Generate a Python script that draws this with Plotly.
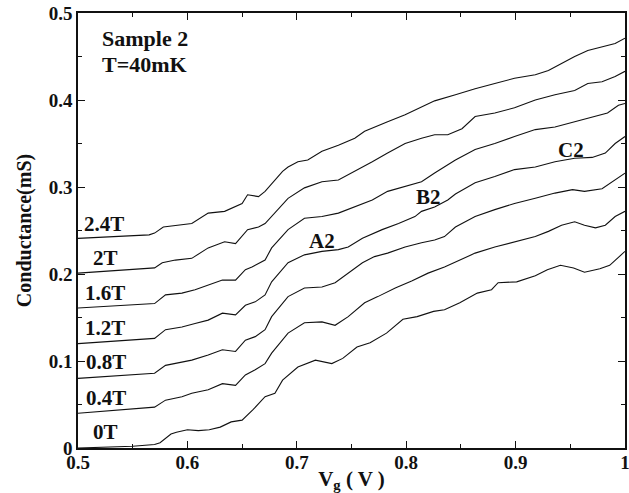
import plotly.graph_objects as go

# ---- data ----
field_labels = ["0T", "0.4T", "0.8T", "1.2T", "1.6T", "2T", "2.4T"]

vg_0T = [0.5, 0.52, 0.55, 0.570, 0.575, 0.585, 0.59, 0.6, 0.61, 0.62, 0.63, 0.64, 0.65, 0.66,
         0.671, 0.68, 0.687, 0.701, 0.717, 0.732, 0.742, 0.755, 0.767, 0.782, 0.797, 0.81,
         0.825, 0.835, 0.849, 0.865, 0.878, 0.884, 0.901, 0.918, 0.929, 0.941, 0.953, 0.963,
         0.977, 0.986, 0.998, 1.0]
g_0T = [0.0, 0.001, 0.002, 0.004, 0.006, 0.016, 0.018, 0.021, 0.020, 0.021, 0.024, 0.030, 0.032, 0.044,
        0.059, 0.063, 0.078, 0.093, 0.101, 0.097, 0.103, 0.116, 0.121, 0.132, 0.148, 0.151,
        0.157, 0.159, 0.167, 0.178, 0.182, 0.190, 0.191, 0.198, 0.205, 0.210, 0.207, 0.202,
        0.206, 0.210, 0.224, 0.226]

vg_04T = [0.5, 0.570, 0.580, 0.595, 0.604, 0.619, 0.632, 0.644, 0.653, 0.662, 0.671, 0.677, 0.692,
          0.707, 0.723, 0.735, 0.747, 0.762, 0.774, 0.790, 0.805, 0.820, 0.835, 0.845, 0.863,
          0.881, 0.899, 0.918, 0.930, 0.942, 0.954, 0.963, 0.973, 0.982, 0.991, 1.0]
g_04T = [0.040, 0.047, 0.055, 0.059, 0.063, 0.067, 0.074, 0.072, 0.084, 0.090, 0.097, 0.109, 0.132,
         0.144, 0.145, 0.141, 0.151, 0.167, 0.174, 0.184, 0.192, 0.201, 0.208, 0.214, 0.224,
         0.231, 0.237, 0.243, 0.249, 0.256, 0.260, 0.256, 0.253, 0.256, 0.266, 0.272]

vg_08T = [0.5, 0.570, 0.580, 0.595, 0.604, 0.619, 0.632, 0.644, 0.653, 0.662, 0.671, 0.677, 0.692,
          0.707, 0.723, 0.735, 0.747, 0.760, 0.771, 0.783, 0.799, 0.814, 0.826, 0.835, 0.845,
          0.863, 0.881, 0.899, 0.918, 0.936, 0.952, 0.963, 0.979, 0.991, 1.0]
g_08T = [0.080, 0.086, 0.095, 0.099, 0.101, 0.107, 0.113, 0.111, 0.124, 0.128, 0.136, 0.151, 0.174,
         0.184, 0.185, 0.190, 0.201, 0.213, 0.220, 0.224, 0.231, 0.236, 0.239, 0.243, 0.254,
         0.266, 0.274, 0.281, 0.287, 0.293, 0.297, 0.295, 0.298, 0.308, 0.316]

vg_12T = [0.5, 0.570, 0.580, 0.595, 0.607, 0.619, 0.632, 0.644, 0.653, 0.662, 0.671, 0.677, 0.692,
          0.707, 0.723, 0.738, 0.747, 0.760, 0.778, 0.793, 0.808, 0.814, 0.826, 0.838, 0.845,
          0.863, 0.881, 0.899, 0.918, 0.936, 0.954, 0.970, 0.982, 0.991, 1.0]
g_12T = [0.120, 0.126, 0.136, 0.139, 0.143, 0.147, 0.155, 0.153, 0.164, 0.168, 0.176, 0.191, 0.213,
         0.222, 0.226, 0.228, 0.231, 0.241, 0.251, 0.258, 0.266, 0.272, 0.277, 0.285, 0.292,
         0.305, 0.312, 0.320, 0.323, 0.329, 0.333, 0.334, 0.339, 0.350, 0.358]

vg_16T = [0.5, 0.570, 0.580, 0.595, 0.607, 0.619, 0.632, 0.644, 0.653, 0.659, 0.671, 0.677, 0.692,
          0.707, 0.723, 0.738, 0.753, 0.769, 0.783, 0.799, 0.814, 0.826, 0.845, 0.863, 0.881,
          0.899, 0.918, 0.936, 0.954, 0.973, 0.984, 0.994, 1.0]
g_16T = [0.161, 0.166, 0.176, 0.178, 0.182, 0.187, 0.193, 0.193, 0.205, 0.208, 0.216, 0.230, 0.251,
         0.264, 0.266, 0.270, 0.277, 0.285, 0.295, 0.301, 0.306, 0.316, 0.331, 0.343, 0.350,
         0.358, 0.366, 0.369, 0.375, 0.381, 0.385, 0.394, 0.396]

vg_2T = [0.5, 0.570, 0.577, 0.589, 0.604, 0.619, 0.634, 0.644, 0.655, 0.665, 0.671, 0.680, 0.692,
         0.707, 0.723, 0.738, 0.753, 0.769, 0.783, 0.799, 0.814, 0.826, 0.838, 0.851, 0.863,
         0.881, 0.899, 0.918, 0.936, 0.954, 0.966, 0.979, 0.991, 1.0]
g_2T = [0.201, 0.207, 0.213, 0.216, 0.218, 0.230, 0.237, 0.235, 0.251, 0.254, 0.258, 0.270, 0.287,
        0.299, 0.306, 0.308, 0.318, 0.329, 0.339, 0.350, 0.356, 0.360, 0.360, 0.367, 0.381,
        0.385, 0.391, 0.400, 0.406, 0.411, 0.419, 0.421, 0.427, 0.433]

vg_24T = [0.5, 0.565, 0.570, 0.578, 0.604, 0.619, 0.634, 0.650, 0.655, 0.665, 0.671, 0.677, 0.687,
          0.692, 0.701, 0.710, 0.723, 0.738, 0.753, 0.762, 0.771, 0.783, 0.799, 0.814, 0.826,
          0.845, 0.863, 0.881, 0.899, 0.918, 0.930, 0.942, 0.954, 0.966, 0.979, 0.991, 1.0]
g_24T = [0.241, 0.245, 0.247, 0.254, 0.258, 0.270, 0.272, 0.281, 0.291, 0.289, 0.295, 0.304, 0.318,
         0.323, 0.329, 0.331, 0.341, 0.348, 0.356, 0.364, 0.369, 0.375, 0.383, 0.392, 0.399,
         0.406, 0.413, 0.419, 0.425, 0.429, 0.434, 0.442, 0.450, 0.457, 0.461, 0.465, 0.471]

curve_x = [vg_0T, vg_04T, vg_08T, vg_12T, vg_16T, vg_2T, vg_24T]
curve_y = [g_0T, g_04T, g_08T, g_12T, g_16T, g_2T, g_24T]

label_x = [0.525, 0.526, 0.526, 0.525, 0.525, 0.525, 0.524]
label_y = [0.018, 0.058, 0.099, 0.138, 0.178, 0.218, 0.257]

feature_labels = ["A2", "B2", "C2"]
feature_x = [0.723, 0.820, 0.951]
feature_y = [0.238, 0.289, 0.343]

x_ticks = [0.5, 0.6, 0.7, 0.8, 0.9, 1.0]
x_tick_text = ["0.5", "0.6", "0.7", "0.8", "0.9", "1"]
y_ticks = [0, 0.1, 0.2, 0.3, 0.4, 0.5]
y_tick_text = ["0", "0.1", "0.2", "0.3", "0.4", "0.5"]

FONT = "Liberation Serif"
INK = "#111111"

fig = go.Figure()
for name, xs, ys in zip(field_labels, curve_x, curve_y):
    fig.add_trace(go.Scatter(x=xs, y=ys, mode="lines", name=name,
                             line=dict(color=INK, width=1.1), showlegend=False))

annotations = []
for t, x, y in zip(field_labels, label_x, label_y):
    annotations.append(dict(x=x, y=y, xref="x", yref="y", text=t, showarrow=False,
                            xanchor="center", yanchor="middle",
                            font=dict(family=FONT, size=21, color=INK, weight="bold")))
for t, x, y in zip(feature_labels, feature_x, feature_y):
    annotations.append(dict(x=x, y=y, xref="x", yref="y", text=t, showarrow=False,
                            xanchor="center", yanchor="middle",
                            font=dict(family=FONT, size=21, color=INK, weight="bold")))
annotations.append(dict(x=0.520, y=0.471, xref="x", yref="y", text="Sample 2", showarrow=False,
                        xanchor="left", yanchor="middle",
                        font=dict(family=FONT, size=22, color=INK, weight="bold")))
annotations.append(dict(x=0.520, y=0.441, xref="x", yref="y", text="T=40mK", showarrow=False,
                        xanchor="left", yanchor="middle",
                        font=dict(family=FONT, size=22, color=INK, weight="bold")))

axis_common = dict(showline=True, linecolor=INK, linewidth=1.5, mirror="ticks",
                   ticks="inside", ticklen=7, tickwidth=1.2, tickcolor=INK,
                   showgrid=False, zeroline=False, automargin=False,
                   ticklabeloverflow="allow",
                   tickfont=dict(family=FONT, size=19, color=INK, weight="bold"))

fig.update_layout(
    width=629, height=493,
    margin=dict(l=78, r=4, t=13, b=45),
    paper_bgcolor="white", plot_bgcolor="white",
    xaxis=dict(range=[0.5, 1.0], tickvals=x_ticks, ticktext=x_tick_text,
               ticklabelstandoff=-4,
               minor=dict(ticks="inside", dtick=0.05, ticklen=4, tickcolor=INK),
               title=dict(text="V<sub>g</sub> ( V )", standoff=1,
                          font=dict(family=FONT, size=21, color=INK, weight="bold")),
               **axis_common),
    yaxis=dict(range=[0, 0.5], tickvals=y_ticks, ticktext=y_tick_text,
               minor=dict(ticks="inside", dtick=0.05, ticklen=4, tickcolor=INK),
               title=dict(text="Conductance(mS)", standoff=12,
                          font=dict(family=FONT, size=20, color=INK, weight="bold")),
               **axis_common),
    annotations=annotations,
)

# remove the browser's default 8px body margin so the 629x493 figure fills the window exactly
fig.write_html("out.html", config={"displayModeBar": False},
               post_script="document.body.style.margin='0';document.body.style.overflow='hidden';")
